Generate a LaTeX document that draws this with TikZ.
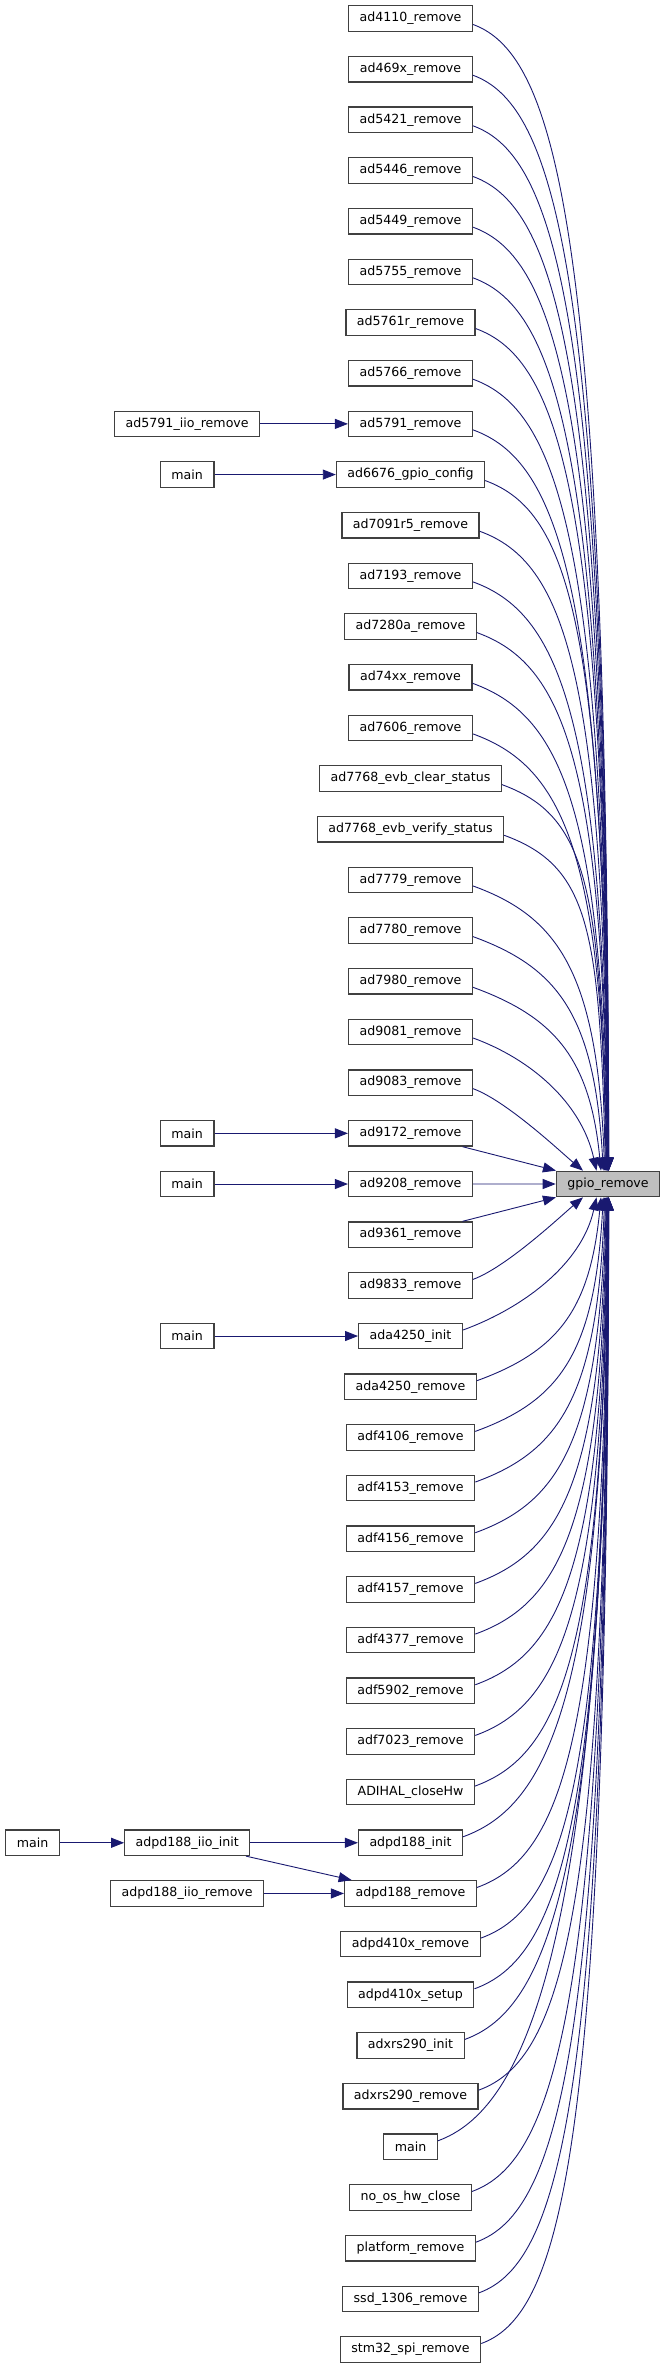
\documentclass[tikz,border=0pt]{standalone}
\usepackage{fontspec}
\setmainfont{DejaVu Sans}
\usetikzlibrary{arrows.meta}
\definecolor{edgeblue}{HTML}{191970}
\definecolor{boxline}{HTML}{404040}
\definecolor{hilite}{HTML}{BFBFBF}

\begin{document}
\begin{tikzpicture}[x=1pt,y=1pt]
        \tikzset{fnbox/.style={draw=boxline, line width=1.2pt, fill=white,
                minimum height=25.5pt, inner xsep=11pt, inner ysep=0pt,
                font=\fontsize{12.6}{15}\selectfont},
            callarrow/.style={draw=edgeblue, line width=0.9pt,
                -{Triangle[length=13pt,width=10pt]}}}
        \useasboundingbox (0,0) rectangle (667,-2368);
        \node[fnbox, fill=hilite] (gpio) at (608,-1184) {gpio\_remove};
        \foreach \nm [count=\i] in {ad4110\_remove, ad469x\_remove, ad5421\_remove,
            ad5446\_remove, ad5449\_remove, ad5755\_remove, ad5761r\_remove,
            ad5766\_remove, ad5791\_remove, ad6676\_gpio\_config, ad7091r5\_remove,
            ad7193\_remove, ad7280a\_remove, ad74xx\_remove, ad7606\_remove,
            ad7768\_evb\_clear\_status, ad7768\_evb\_verify\_status, ad7779\_remove,
            ad7780\_remove, ad7980\_remove, ad9081\_remove, ad9083\_remove,
            ad9172\_remove, ad9208\_remove, ad9361\_remove, ad9833\_remove,
            ada4250\_init, ada4250\_remove, adf4106\_remove, adf4153\_remove,
            adf4156\_remove, adf4157\_remove, adf4377\_remove, adf5902\_remove,
            adf7023\_remove, ADIHAL\_closeHw, adpd188\_init, adpd188\_remove,
            adpd410x\_remove, adpd410x\_setup, adxrs290\_init, adxrs290\_remove,
            main, no\_os\_hw\_close, platform\_remove, ssd\_1306\_remove,
            stm32\_spi\_remove}
            \node[fnbox] (r\i) at (410.5, {-18.5-(\i-1)*50.674}) {\nm};
        \node[fnbox] (m9) at (187.2,0 |- r9) {ad5791\_iio\_remove};
        \node[fnbox] (m10) at (187.2,0 |- r10) {main};
        \node[fnbox] (m23) at (187.2,0 |- r23) {main};
        \node[fnbox] (m24) at (187.2,0 |- r24) {main};
        \node[fnbox] (m27) at (187.2,0 |- r27) {main};
        \node[fnbox] (m37) at (187.2,0 |- r37) {adpd188\_iio\_init};
        \node[fnbox] (m38) at (187.2,0 |- r38) {adpd188\_iio\_remove};
        \node[fnbox] (top37) at (32.5,0 |- r37) {main};
        \foreach \i in {1,...,22} {
            \pgfmathsetmacro\k{23-\i}
            \pgfmathsetmacro\dy{50.674*\k-19.1}
            \pgfmathsetmacro\od{min(90,0.5*\dy+20)}
            \pgfmathsetmacro\id{0.85*\dy}
            \pgfmathsetmacro\ia{90+50/(\k*\k)}
            \pgfmathsetmacro\xs{2-27/\k}
            \draw[callarrow] ([yshift=-6pt]r\i.east) .. controls +(-20:\od pt) and +(\ia:\id pt) .. ([xshift=\xs pt]gpio.north);
        }
        \foreach \i in {26,...,47} {
            \pgfmathsetmacro\k{\i-25}
            \pgfmathsetmacro\dy{50.674*\k-19.1}
            \pgfmathsetmacro\od{min(90,0.5*\dy+20)}
            \pgfmathsetmacro\id{0.85*\dy}
            \pgfmathsetmacro\ia{90+50/(\k*\k)}
            \pgfmathsetmacro\xs{2-27/\k}
            \draw[callarrow] ([yshift=6pt]r\i.east) .. controls +(20:\od pt) and +(-\ia:\id pt) .. ([xshift=\xs pt]gpio.south);
        }
        \draw[callarrow] (r23) -- (gpio);
        \draw[callarrow] (r24) -- (gpio);
        \draw[callarrow] (r25) -- (gpio);
        \draw[callarrow] (m9) -- (r9);
        \draw[callarrow] (m10) -- (r10);
        \draw[callarrow] (m23) -- (r23);
        \draw[callarrow] (m24) -- (r24);
        \draw[callarrow] (m27) -- (r27);
        \draw[callarrow] (top37) -- (m37);
        \draw[callarrow] (m37) -- (r37);
        \draw[callarrow] (m37) -- (r38);
        \draw[callarrow] (m38) -- (r38);
    \end{tikzpicture}
\end{document}
